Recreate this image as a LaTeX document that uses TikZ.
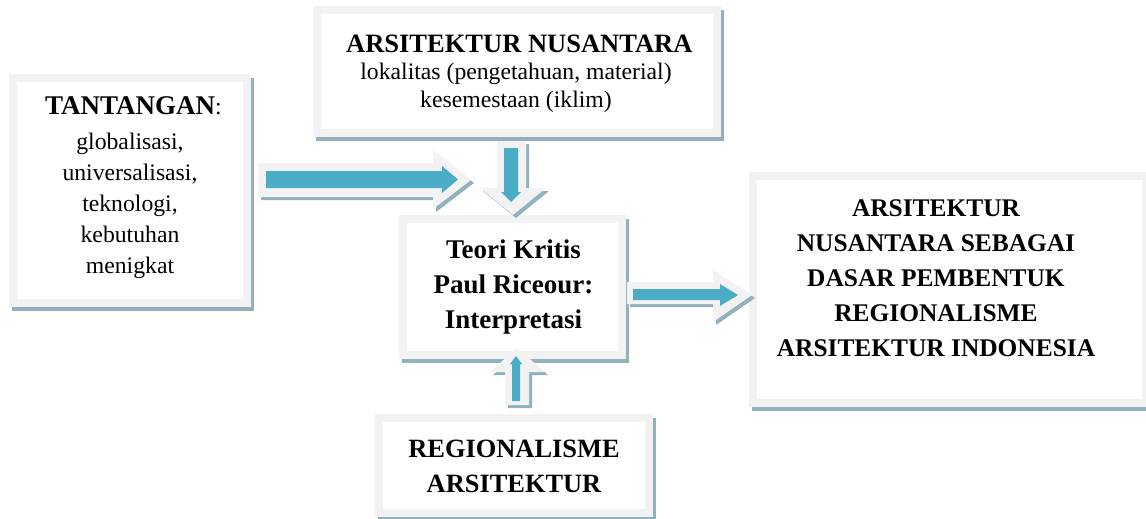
\documentclass[tikz,border=0pt]{standalone}
\usepackage{fontspec}
\setmainfont{Liberation Serif}
\usetikzlibrary{backgrounds,calc}
\definecolor{bgray}{HTML}{F2F2F2}
\definecolor{shad}{HTML}{93B1BC}
\definecolor{ablue}{HTML}{4BACC6}
\newcommand{\bfs}[1]{\fontsize{#1}{35}\selectfont\bfseries}
\newcommand{\rgl}{\fontsize{23.7}{31}\selectfont}
\tikzset{
  box/.style={draw=bgray, fill=white, line width=8pt, inner sep=0pt, outer sep=4pt},
  txt/.style={align=center, inner sep=0pt, anchor=base},
  arrowouter/.style={fill=bgray},
  arrowshadow/.style={fill=shad},
  arrowinner/.style={fill=ablue},
}
\begin{document}
\begin{tikzpicture}[x=1pt,y=-1pt]
\useasboundingbox (0,0) rectangle (1146,519);
% boxes
\node[box, minimum width=234pt, minimum height=225pt] (L) at (130,190.5) {};
\node[box, minimum width=400pt, minimum height=123pt] (T) at (517,71.5) {};
\node[box, minimum width=219pt, minimum height=136pt] (C) at (512.5,287) {};
\node[box, minimum width=393pt, minimum height=227pt] (R) at (949.5,289.5) {};
\node[box, minimum width=270pt, minimum height=95pt] (B) at (514,465.5) {};
\begin{scope}[on background layer]
  \foreach \n in {L,T,C,R,B}
    \fill[shad] ($(\n.north west)+(3,4)$) rectangle ($(\n.south east)+(3,4)$);
\end{scope}
% texts (anchor = baseline of the last line)
\node[txt, font=\rgl] (Lt) at (130,273) {{\bfs{27} TANTANGAN}:\\[4pt]globalisasi,\\universalisasi,\\teknologi,\\kebutuhan\\menigkat};
\node[txt, font=\fontsize{23.7}{27.5}\selectfont] (Tt) at (516,107) {{\bfs{26.5} ARSITEKTUR NUSANTARA}\\lokalitas (pengetahuan, material)\\kesemestaan (iklim)};
\node[txt, font=\bfs{27}] (Ct) at (513.5,328) {Teori Kritis\\Paul Riceour:\\Interpretasi};
\node[txt, font=\bfs{25.4}] (Rt) at (936,356) {ARSITEKTUR\\NUSANTARA SEBAGAI\\DASAR PEMBENTUK\\REGIONALISME\\ARSITEKTUR INDONESIA};
\node[txt, font=\bfs{26.4}] (Bt) at (514,492) {REGIONALISME\\ARSITEKTUR};
% arrow L -> C
\fill[arrowshadow, shift={(3,3)}] (258,163) -- (433,163) -- (433,150) -- (471,180) -- (433,209) -- (433,197) -- (258,197) -- cycle;
\fill[arrowouter] (258,163) -- (433,163) -- (433,150) -- (471,180) -- (433,209) -- (433,197) -- (258,197) -- cycle;
\fill[arrowinner] (266,171) -- (442,171) -- (442,166) -- (458,179.5) -- (442,193) -- (442,188) -- (266,188) -- cycle;
% arrow T -> C
\fill[arrowshadow, shift={(3,3)}] (497,141) -- (526,141) -- (526,188) -- (546,188) -- (513,215) -- (480,188) -- (497,188) -- cycle;
\fill[arrowouter] (497,141) -- (526,141) -- (526,188) -- (546,188) -- (513,215) -- (480,188) -- (497,188) -- cycle;
\fill[arrowinner] (504,148) -- (518,148) -- (518,192) -- (521,192) -- (511,202) -- (501,192) -- (504,192) -- cycle;
% arrow C -> R
\fill[arrowshadow, shift={(3,3)}] (627,282) -- (713,282) -- (713,270) -- (752,295) -- (713,322) -- (713,304) -- (627,304) -- cycle;
\fill[arrowouter] (627,282) -- (713,282) -- (713,270) -- (752,295) -- (713,322) -- (713,304) -- (627,304) -- cycle;
\fill[arrowinner] (633,289) -- (720,289) -- (720,284) -- (738,295) -- (720,306) -- (720,300) -- (633,300) -- cycle;
% arrow B -> C
\fill[arrowshadow, shift={(3,3)}] (505,405) -- (529,405) -- (529,372) -- (545,372) -- (517,348) -- (490,372) -- (505,372) -- cycle;
\fill[arrowouter] (505,405) -- (529,405) -- (529,372) -- (545,372) -- (517,348) -- (490,372) -- (505,372) -- cycle;
\fill[arrowinner] (512,401) -- (520,401) -- (520,364) -- (522,364) -- (516,356) -- (510,364) -- (512,364) -- cycle;
\end{tikzpicture}
\end{document}
